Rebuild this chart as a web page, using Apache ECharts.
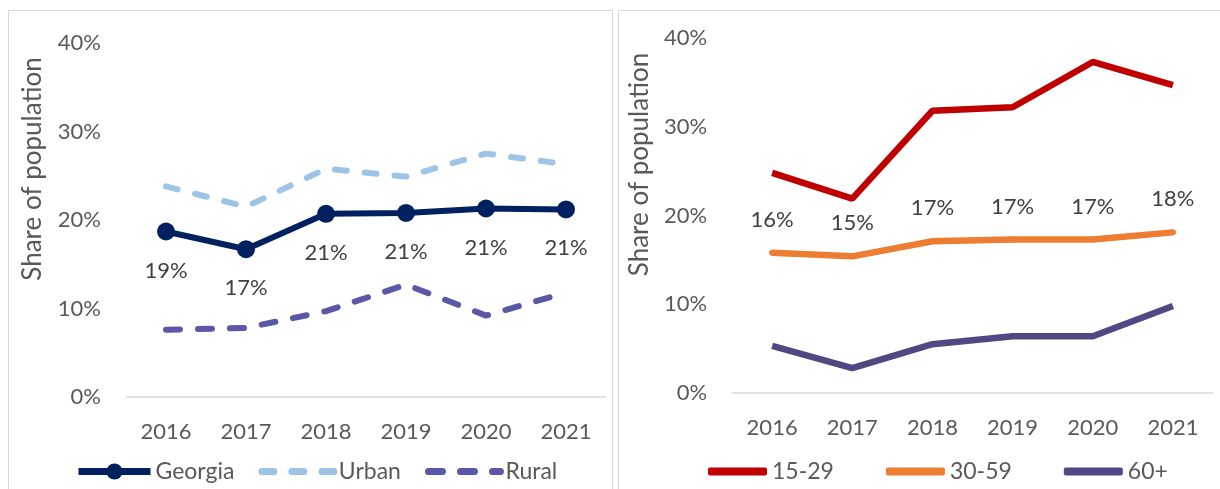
<!DOCTYPE html>
<html>
<head>
<meta charset="utf-8">
<script src="https://cdn.jsdelivr.net/npm/echarts@6/dist/echarts.min.js"></script>
<style>
  html, body { margin: 0; padding: 0; background: #fff; }
  .panel {
    position: absolute;
    top: 10px;
    height: 492px;
    border: 1px solid #d9d9d9;
    box-sizing: border-box;
  }
  #left { left: 8px; width: 605px; }
  #right { left: 618px; width: 610px; }
</style>
</head>
<body>
<div class="panel" id="left"></div>
<div class="panel" id="right"></div>
<script>
// 年份
const years = ['2016', '2017', '2018', '2019', '2020', '2021']
// 左图：全国 / 城市 / 农村（%）
const georgia = [18.7, 16.7, 20.7, 20.8, 21.3, 21.2]
const urban = [23.8, 21.5, 25.8, 24.9, 27.5, 26.3]
const rural = [7.6, 7.8, 9.7, 12.7, 9.2, 11.8]
// 右图：年龄组（%）
const age15to29 = [24.8, 21.9, 31.8, 32.2, 37.3, 34.7]
const age30to59 = [15.8, 15.4, 17.1, 17.3, 17.3, 18.1]
const age60plus = [5.3, 2.8, 5.5, 6.4, 6.4, 9.8]
// y轴刻度
const yTicks = [0, 10, 20, 30, 40]

const FONT = 'Lato'
const AXIS_COLOR = '#595959'

// 公共坐标轴配置
function makeAxes(nameGap) {
  return {
    xAxis: {
      type: 'category',
      data: years,
      boundaryGap: true,
      axisLine: { lineStyle: { color: '#d9d9d9', width: 1.5 } },
      axisTick: { show: false },
      axisLabel: { color: AXIS_COLOR, fontFamily: FONT, fontSize: 22, margin: 24 }
    },
    yAxis: {
      type: 'value',
      min: yTicks[0],
      max: yTicks[yTicks.length - 1],
      interval: yTicks[1] - yTicks[0],
      name: 'Share of population',
      nameLocation: 'middle',
      nameGap: nameGap,
      nameTextStyle: {
        color: AXIS_COLOR, fontFamily: FONT, fontSize: 26,
        padding: [0, 0, 0, 102]
      },
      axisLine: { show: false },
      axisTick: { show: false },
      splitLine: { show: false },
      axisLabel: { color: AXIS_COLOR, fontFamily: FONT, fontSize: 22, margin: 25, formatter: '{value}%' }
    }
  }
}

const pctLabel = p => Math.round(p.value) + '%'

// 左图
const leftChart = echarts.init(document.getElementById('left'))
leftChart.setOption(Object.assign({
  animation: false,
  grid: { left: 117, top: 32, width: 480, height: 354 },
  legend: {
    left: 61,
    top: 444,
    itemWidth: 72,
    itemHeight: 20,
    itemGap: 24,
    textStyle: { color: AXIS_COLOR, fontFamily: FONT, fontSize: 23 },
    data: [
      { name: 'Georgia', lineStyle: { width: 7 } },
      { name: 'Urban', lineStyle: { width: 7, type: [12, 18], cap: 'round' }, itemStyle: { opacity: 0 } },
      { name: 'Rural', lineStyle: { width: 7, type: [14, 18], cap: 'round' }, itemStyle: { opacity: 0 } }
    ]
  },
  series: [
    {
      name: 'Urban',
      type: 'line',
      data: urban,
      symbol: 'none',
      lineStyle: { color: '#9dc3e6', width: 6, type: [12, 18], cap: 'round' },
      itemStyle: { color: '#9dc3e6' }
    },
    {
      name: 'Rural',
      type: 'line',
      data: rural,
      symbol: 'none',
      lineStyle: { color: '#5a57a6', width: 6, type: [14, 18], cap: 'round' },
      itemStyle: { color: '#5a57a6' }
    },
    {
      name: 'Georgia',
      type: 'line',
      data: georgia,
      symbol: 'circle',
      symbolSize: 18,
      lineStyle: { color: '#002060', width: 6 },
      itemStyle: { color: '#002060' },
      label: {
        show: true,
        position: 'bottom',
        distance: 19,
        color: '#404040',
        fontFamily: FONT,
        fontSize: 22,
        formatter: pctLabel
      }
    }
  ]
}, makeAxes(80)))

// 右图
const rightChart = echarts.init(document.getElementById('right'))
rightChart.setOption(Object.assign({
  animation: false,
  grid: { left: 109, top: 27, width: 485, height: 355 },
  legend: {
    left: 84,
    top: 444,
    icon: 'roundRect',
    itemWidth: 59,
    itemHeight: 8,
    itemGap: 52,
    textStyle: { color: AXIS_COLOR, fontFamily: FONT, fontSize: 23 },
    data: ['15-29', '30-59', '60+']
  },
  series: [
    {
      name: '15-29',
      type: 'line',
      data: age15to29,
      symbol: 'none',
      lineStyle: { color: '#c00000', width: 6.5 },
      itemStyle: { color: '#c00000' }
    },
    {
      name: '30-59',
      type: 'line',
      data: age30to59,
      symbol: 'circle',
      symbolSize: 6,
      lineStyle: { color: '#ed7d31', width: 6.5 },
      itemStyle: { color: '#ed7d31' },
      label: {
        show: true,
        position: 'top',
        distance: 19,
        color: '#404040',
        fontFamily: FONT,
        fontSize: 22,
        formatter: pctLabel
      }
    },
    {
      name: '60+',
      type: 'line',
      data: age60plus,
      symbol: 'none',
      lineStyle: { color: '#4f4883', width: 6.5 },
      itemStyle: { color: '#4f4883' }
    }
  ]
}, makeAxes(74)))

window.addEventListener('resize', leftChart.resize)
window.addEventListener('resize', rightChart.resize)
</script>
</body>
</html>
